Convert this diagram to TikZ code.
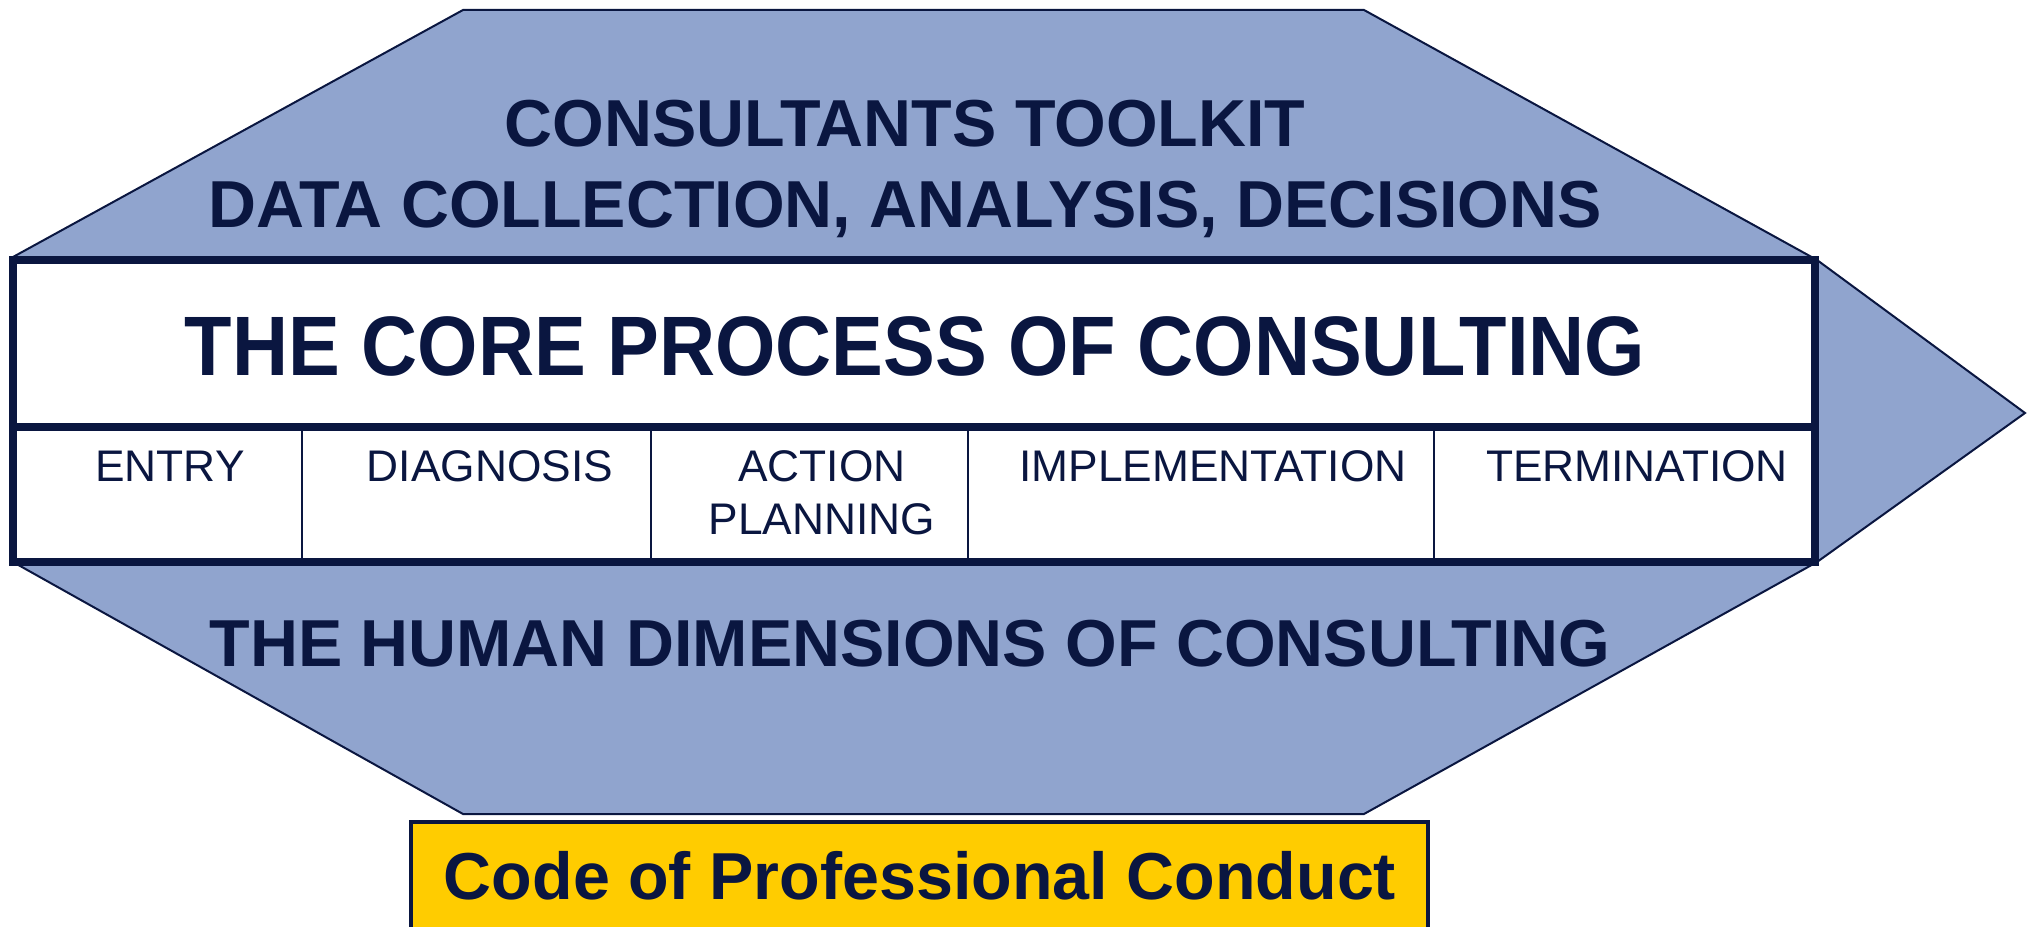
\documentclass[tikz,border=0pt]{standalone}
\usepackage{fontspec}
\setmainfont{Liberation Sans}
\newfontfamily\corefont[FakeStretch=0.92]{Liberation Sans}
\usepackage{tikz}
\usetikzlibrary{positioning, calc}
\definecolor{navy}{HTML}{0A1640}
\definecolor{hexblue}{HTML}{90A4CE}
\definecolor{codeyellow}{HTML}{FFCC00}
\tikzset{%
	hexshape/.style={draw=navy, line width=0.02cm, fill=hexblue},
	tablebox/.style={draw=navy, line width=0.075cm, fill=white},
	divider/.style={draw=navy, line width=0.025cm},
	bigtext/.style={text=navy, inner sep=0mm, align=center, font=\bfseries\fontsize{18.9}{23}\selectfont},
	coretext/.style={text=navy, inner sep=0mm, font=\corefont\bfseries\fontsize{24}{28}\selectfont},
	phase/.style={text=navy, inner sep=0mm, align=center, font=\fontsize{12.6}{15}\selectfont},
	codebox/.style={draw=navy, line width=0.04cm, fill=codeyellow}
}

\begin{document}
\begin{tikzpicture}
  \useasboundingbox (0,0) rectangle (20.35,9.26);
  % the arrow shape behind the table
  \draw[hexshape] (0.13,6.69) -- (4.63,9.16) -- (13.64,9.16) -- (18.17,6.66)
    -- (20.25,5.13) -- (18.17,3.64) -- (13.64,1.12) -- (4.63,1.12) -- (0.13,3.64) -- cycle;

  % core table
  \coordinate (tl) at (0.13,6.66);
  \coordinate (br) at (18.15,3.64);
  \draw[tablebox] (tl) rectangle (br);
  \draw[draw=navy, line width=0.075cm] (0.13,4.99) -- (18.15,4.99);
  \foreach \x in {3.02, 6.51, 9.68, 14.34}
    \draw[divider] (\x,4.99) -- (\x,3.64);

  \node[bigtext] (toolkit) at (9.05,7.57) {CONSULTANTS TOOLKIT\\DATA COLLECTION, ANALYSIS, DECISIONS};
  \node[coretext] (core) at (9.15,5.80) {THE CORE PROCESS OF CONSULTING};
  \node[bigtext] (human) at (9.10,2.82) {THE HUMAN DIMENSIONS OF CONSULTING};

  \node[phase] (entry) at (1.70,4.60) {ENTRY};
  \node[phase] (diagnosis) at (4.90,4.60) {DIAGNOSIS};
  \node[phase] (action) at (8.22,4.33) {ACTION\\PLANNING};
  \node[phase] (implementation) at (12.13,4.60) {IMPLEMENTATION};
  \node[phase] (termination) at (16.37,4.60) {TERMINATION};

  % code of conduct
  \draw[codebox] (4.11,1.04) rectangle (14.28,-0.3);
  \node[bigtext] (code) at (9.20,0.50) {Code of Professional Conduct};
\end{tikzpicture}
\end{document}
